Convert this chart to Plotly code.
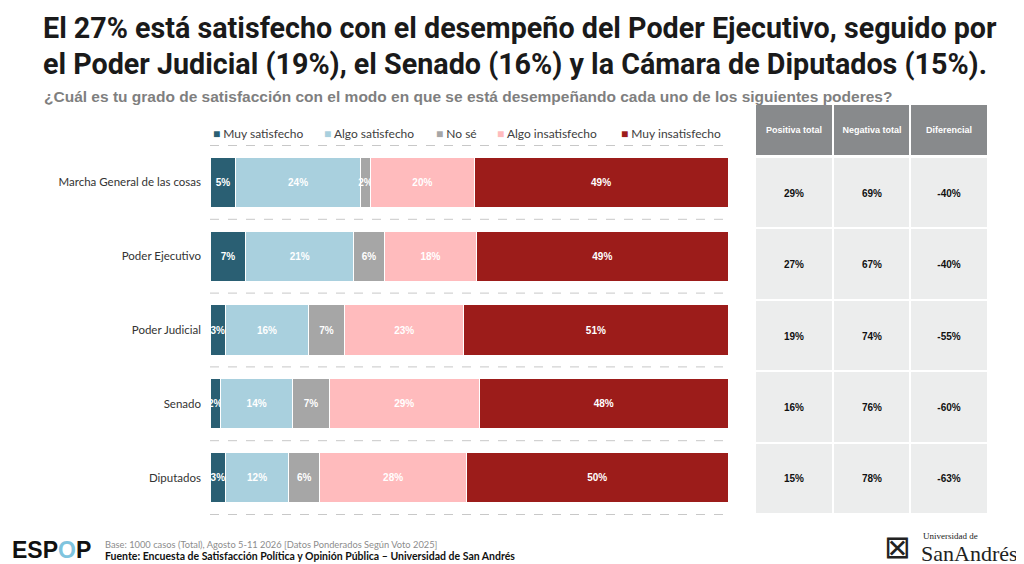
import plotly.graph_objects as go

# data
categories = ["Marcha General de las cosas", "Poder Ejecutivo", "Poder Judicial", "Senado", "Diputados"]
muy_satisfecho = [5, 7, 3, 2, 3]
algo_satisfecho = [24, 21, 16, 14, 12]
no_se = [2, 6, 7, 7, 6]
algo_insatisfecho = [20, 18, 23, 29, 28]
muy_insatisfecho = [49, 49, 51, 48, 50]

table_columns = ["Positiva total", "Negativa total", "Diferencial"]
positiva_total = [29, 27, 19, 16, 15]
negativa_total = [69, 67, 74, 76, 78]
diferencial = [-40, -40, -55, -60, -63]

series = [
    ("Muy satisfecho", muy_satisfecho, "#2A5F73"),
    ("Algo satisfecho", algo_satisfecho, "#A9D0DE"),
    ("No sé", no_se, "#A6A6A6"),
    ("Algo insatisfecho", algo_insatisfecho, "#FFBBBD"),
    ("Muy insatisfecho", muy_insatisfecho, "#9C1C1A"),
]

W, H = 1024, 564
OFF = 8  # page body margin


def px_x(p):
    return (p - OFF) / W


def px_y(p):
    return 1 - (p - OFF) / H


fig = go.Figure()

for name, vals, color in series:
    fig.add_trace(go.Bar(
        y=categories, x=vals, name=name, orientation="h",
        marker=dict(color=color, line=dict(color="white", width=1)),
        width=0.68,
        text=vals, texttemplate="<b>%{text}%</b>", textposition="inside",
        insidetextanchor="middle", textangle=0,
        textfont=dict(family="Liberation Sans, Arial", size=10, color="white"),
        hoverinfo="skip", showlegend=False,
    ))

# table body as a heatmap grid
table_text = [[f"{p}%", f"{n}%", f"{d}%"] for p, n, d in zip(positiva_total, negativa_total, diferencial)]
fig.add_trace(go.Heatmap(
    x=table_columns, y=categories, z=[[0, 0, 0] for _ in categories],
    colorscale=[[0, "#ECEDED"], [1, "#ECEDED"]], showscale=False,
    xgap=2, ygap=2, text=table_text, texttemplate="<b>%{text}</b>",
    textfont=dict(family="Liberation Sans, Arial", size=10, color="#111111"),
    xaxis="x2", yaxis="y3", hoverinfo="skip", showlegend=False,
))

# table header
fig.add_trace(go.Heatmap(
    x=table_columns, y=["header"], z=[[0, 0, 0]],
    colorscale=[[0, "#888A8C"], [1, "#888A8C"]], showscale=False,
    xgap=2, text=[table_columns], texttemplate="<b>%{text}</b>",
    textfont=dict(family="Liberation Sans, Arial", size=9, color="white"),
    xaxis="x3", yaxis="y4", hoverinfo="skip", showlegend=False,
))

# dashed separators between rows
for k in range(len(categories) + 1):
    fig.add_shape(type="line", xref="x domain", yref="y", x0=0, x1=1,
                  y0=k - 0.5, y1=k - 0.5,
                  line=dict(color="#C8C8C8", width=1, dash="dash"), layer="below")

fig.update_layout(
    width=W, height=H,
    margin=dict(l=0, r=0, t=0, b=0),
    paper_bgcolor="white", plot_bgcolor="white",
    barmode="stack", barnorm="percent",
    uniformtext=dict(minsize=10, mode="show"),
    showlegend=False,
    xaxis=dict(domain=[px_x(210), px_x(728)], range=[0, 100], visible=False, fixedrange=True),
    yaxis=dict(domain=[px_y(515), px_y(145)], autorange="reversed", showgrid=False,
               tickfont=dict(family="Lato, Liberation Sans", size=11.5, color="#333333"),
               ticks="", ticklabelstandoff=8, showline=False, zeroline=False),
    xaxis2=dict(domain=[px_x(755), px_x(988)], anchor="y3", visible=False),
    yaxis3=dict(domain=[px_y(514), px_y(157)], anchor="x2", autorange="reversed", visible=False),
    xaxis3=dict(domain=[px_x(755), px_x(988)], anchor="y4", visible=False),
    yaxis4=dict(domain=[px_y(155), px_y(105)], anchor="x3", visible=False),
)

# legend drawn as text entries
legend_x = [211, 322, 434, 495, 619]
for (name, vals, color), lx in zip(series, legend_x):
    fig.add_annotation(
        text=f"<span style='color:{color}'>■</span> {name}",
        xref="paper", yref="paper", x=px_x(lx), y=px_y(134), xanchor="left", yanchor="middle",
        showarrow=False, font=dict(family="Lato, Liberation Sans", size=12, color="#404040"))

# title, subtitle and footer
title_lines = ["El 27% está satisfecho con el desempeño del Poder Ejecutivo, seguido por",
               "el Poder Judicial (19%), el Senado (16%) y la Cámara de Diputados (15%)."]
for line, ly in zip(title_lines, [28, 64]):
    fig.add_annotation(
        text=f"<b>{line}</b>", xref="paper", yref="paper", x=px_x(41), y=px_y(ly),
        xanchor="left", yanchor="middle", showarrow=False,
        font=dict(family="Roboto, Liberation Sans", size=28.7, color="#1A1A1A"))
fig.add_annotation(
    text="<b>¿Cuál es tu grado de satisfacción con el modo en que se está desempeñando cada uno de los siguientes poderes?</b>",
    xref="paper", yref="paper", x=px_x(42), y=px_y(96), xanchor="left", yanchor="middle",
    showarrow=False, font=dict(family="Liberation Sans, Arial", size=15.5, color="#7F7F7F"))
fig.add_annotation(
    text="<b>ESP<span style='color:#7FC4DE'>O</span>P</b>",
    xref="paper", yref="paper", x=px_x(10), y=px_y(550), xanchor="left", yanchor="middle",
    showarrow=False, font=dict(family="Liberation Sans, Arial", size=23, color="#111111"))
fig.add_annotation(
    text="Base: 1000 casos (Total), Agosto 5-11 2026 [Datos Ponderados Según Voto 2025]",
    xref="paper", yref="paper", x=px_x(103), y=px_y(544), xanchor="left", yanchor="middle",
    showarrow=False, font=dict(family="Lato, Liberation Sans", size=9.3, color="#8C8C8C"))
fig.add_annotation(
    text="<b>Fuente: Encuesta de Satisfacción Política y Opinión Pública – Universidad de San Andrés</b>",
    xref="paper", yref="paper", x=px_x(103), y=px_y(556), xanchor="left", yanchor="middle",
    showarrow=False, font=dict(family="Lato, Liberation Sans", size=10.5, color="#111111"))
fig.add_annotation(
    text="⊠", xref="paper", yref="paper", x=px_x(897), y=px_y(547), xanchor="center", yanchor="middle",
    showarrow=False, font=dict(family="DejaVu Sans", size=32, color="#222222"))
fig.add_annotation(
    text="Universidad de", xref="paper", yref="paper", x=px_x(921), y=px_y(536), xanchor="left", yanchor="middle",
    showarrow=False, font=dict(family="Liberation Serif", size=9, color="#222222"))
fig.add_annotation(
    text="SanAndrés", xref="paper", yref="paper", x=px_x(919), y=px_y(553), xanchor="left", yanchor="middle",
    showarrow=False, font=dict(family="Liberation Serif", size=22, color="#222222"))

fig.write_html("out.html")
